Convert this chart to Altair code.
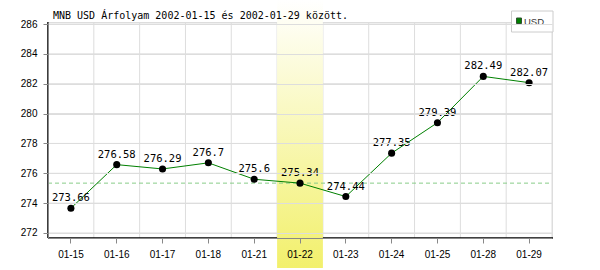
import altair as alt
import pandas as pd

dates = ["01-15", "01-16", "01-17", "01-18", "01-21", "01-22",
         "01-23", "01-24", "01-25", "01-28", "01-29"]
values = [273.66, 276.58, 276.29, 276.7, 275.6, 275.34,
          274.44, 277.35, 279.39, 282.49, 282.07]
y_ticks = [272, 274, 276, 278, 280, 282, 284, 286]
highlight_date = "01-22"
ref_value = 275.34
title_text = "MNB USD Árfolyam 2002-01-15 és 2002-01-29 között."
legend_label = "USD"

W, H = 504, 216
MONO = "DejaVu Sans Mono"

df = pd.DataFrame({"d": dates, "v": values})

xscale = alt.Scale(domain=dates, paddingInner=0, paddingOuter=0)
yscale = alt.Scale(domain=[271.665, 286.134], nice=False, zero=False)
xaxis = alt.Axis(title=None, labelAngle=0, labelPadding=6, zindex=2)
yaxis = alt.Axis(title=None, values=y_ticks, labelPadding=6, zindex=2)

X = alt.X("d:N", scale=xscale, axis=xaxis, sort=dates)
Y = alt.Y("v:Q", scale=yscale, axis=yaxis)

hgrid = alt.Chart(pd.DataFrame({"v": y_ticks})).mark_rule(
    color="#dddddd", strokeWidth=1
).encode(y=Y, x=alt.value(0), x2=alt.value(W))

vgrid = alt.Chart(pd.DataFrame({"d": dates})).mark_rule(
    color="#dddddd", strokeWidth=1
).encode(
    x=alt.X("d:N", scale=xscale, axis=xaxis, sort=dates, bandPosition=0),
    y=alt.value(0), y2=alt.value(H),
)

right_edge = alt.Chart(pd.DataFrame({"d": [dates[-1]]})).mark_rule(
    color="#dddddd", strokeWidth=1
).encode(x=alt.value(W), y=alt.value(0), y2=alt.value(H))

x_domain = alt.Chart(pd.DataFrame({"d": [dates[0]]})).mark_rule(
    color="black", strokeWidth=1.5
).encode(x=alt.value(0), x2=alt.value(W + 1), y=alt.value(H))

y_domain = alt.Chart(pd.DataFrame({"d": [dates[0]]})).mark_rule(
    color="black", strokeWidth=1.5
).encode(x=alt.value(0), y=alt.value(0), y2=alt.value(H))

gradient = {
    "gradient": "linear",
    "x1": 0, "x2": 0, "y1": 0, "y2": 1,
    "stops": [
        {"offset": 0, "color": "#ffffff"},
        {"offset": 1, "color": "#f2f06c"},
    ],
}
hl = alt.Chart(pd.DataFrame({"d": [highlight_date]})).mark_rect(
    fill=gradient, clip=False
).encode(x=X, y=alt.value(-22), y2=alt.value(H + 30))

ref = alt.Chart(pd.DataFrame({"v": [ref_value]})).mark_rule(
    color="#88cc88", strokeWidth=1, strokeDash=[4, 3]
).encode(y=Y, x=alt.value(0), x2=alt.value(W))

line = alt.Chart(df).mark_line(color="#008000", strokeWidth=1).encode(x=X, y=Y)
pts = alt.Chart(df).mark_circle(color="black", opacity=1, size=50).encode(x=X, y=Y)
lbl = alt.Chart(df).mark_text(
    font=MONO, fontSize=10.5, color="black", dy=-7, baseline="alphabetic"
).encode(x=X, y=Y, text="v:Q")

title = alt.Chart(pd.DataFrame({"t": [title_text]})).mark_text(
    font=MONO, fontSize=10, color="black", align="left", baseline="alphabetic"
).encode(x=alt.value(5), y=alt.value(-3), text="t:N")

leg_box = alt.Chart(pd.DataFrame({"t": [legend_label]})).mark_rect(
    fill="white", stroke="#cccccc", strokeWidth=1
).encode(x=alt.value(463.5), x2=alt.value(505), y=alt.value(-11), y2=alt.value(10))
leg_sq = alt.Chart(pd.DataFrame({"t": [legend_label]})).mark_rect(
    fill="#008000", stroke="#305030", strokeWidth=1
).encode(x=alt.value(468.5), x2=alt.value(473.5), y=alt.value(-4), y2=alt.value(1.5))
leg_txt = alt.Chart(pd.DataFrame({"t": [legend_label]})).mark_text(
    font="Liberation Sans", fontSize=9.5, color="#333333", align="left", baseline="alphabetic"
).encode(x=alt.value(476), y=alt.value(2.5), text="t:N")

chart = alt.layer(
    hgrid, vgrid, right_edge, x_domain, y_domain, hl, ref, line, pts, lbl,
    title, leg_box, leg_sq, leg_txt
).properties(
    width=W, height=H,
    autosize=alt.AutoSizeParams(type="none"),
    padding={"left": 48, "top": 22, "right": 48, "bottom": 32},
).configure_view(stroke=None).configure_axis(
    grid=False, domain=False, ticks=False, tickSize=0,
    labelFont=MONO, labelFontSize=10, labelColor="#666666",
).configure(background="white")

chart.save("out.html", embed_options={"renderer": "svg", "actions": False})
